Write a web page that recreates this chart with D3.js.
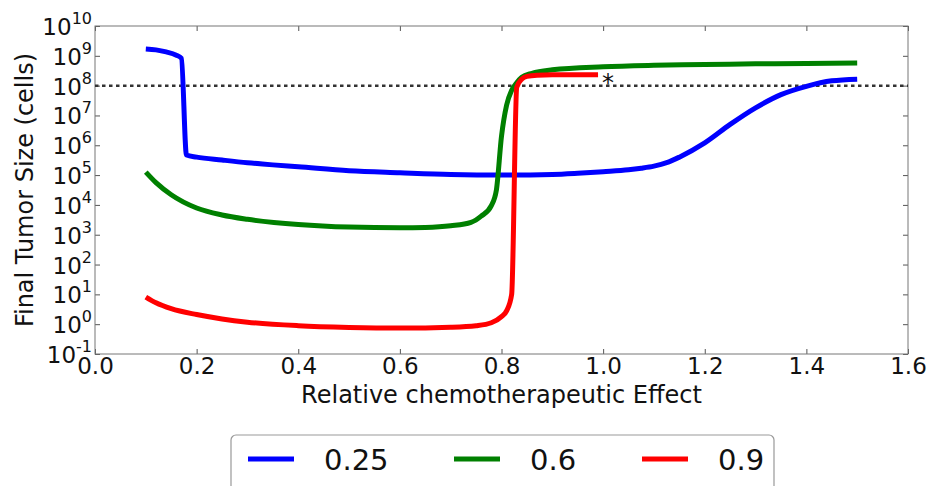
<!DOCTYPE html>
<html>
<head>
<meta charset="utf-8">
<script src="https://cdn.jsdelivr.net/npm/d3@7/dist/d3.min.js"></script>
<style>
    html, body { margin: 0; padding: 0; background: #fff; }
    svg { display: block; font-family: "DejaVu Sans", sans-serif; }
</style>
</head>
<body>
<div id="chart"></div>
<script>
// chemotherapeutic effect (x) and final tumor size in cells (y), one pair per series
const effect025 = [0.10, 0.12, 0.14, 0.16, 0.17, 0.18, 0.20, 0.25, 0.30, 0.35, 0.40, 0.50, 0.60, 0.70,
    0.80, 0.90, 0.95, 1.00, 1.05, 1.075, 1.10, 1.125, 1.15, 1.20, 1.25, 1.30, 1.35, 1.40, 1.45, 1.50];
const size025 = [1.70e9, 1.58e9, 1.35e9, 1.05e9, 8.3e8, 4.7e5, 4.0e5, 3.2e5, 2.6e5, 2.2e5, 1.9e5, 1.4e5, 1.2e5, 1.05e5,
    1.0e5, 1.05e5, 1.15e5, 1.3e5, 1.5e5, 1.7e5, 2.0e5, 2.6e5, 4.0e5, 1.2e6, 5.0e6, 1.8e7, 5.0e7, 9.5e7, 1.45e8, 1.65e8];

const effect06 = [0.10, 0.12, 0.15, 0.20, 0.25, 0.30, 0.40, 0.50, 0.60, 0.65, 0.70, 0.74, 0.76, 0.78,
    0.79, 0.80, 0.81, 0.82, 0.83, 0.84, 0.86, 0.90, 1.00, 1.10, 1.20, 1.30, 1.40, 1.50];
const size06 = [1.26e5, 5.6e4, 2.2e4, 7.9e3, 4.6e3, 3.3e3, 2.2e3, 1.8e3, 1.7e3, 1.75e3, 2.0e3, 2.6e3, 4.2e3, 9.5e3,
    3.2e4, 2.0e6, 2.2e7, 7.0e7, 1.25e8, 1.9e8, 2.6e8, 3.4e8, 4.3e8, 4.8e8, 5.1e8, 5.4e8, 5.55e8, 5.7e8];

const effect09 = [0.10, 0.12, 0.15, 0.20, 0.25, 0.30, 0.40, 0.50, 0.60, 0.70, 0.75, 0.78, 0.80, 0.81,
    0.82, 0.83, 0.84, 0.85, 0.87, 0.90, 0.99];
const size09 = [8.1, 5.2, 3.3, 2.1, 1.5, 1.17, 0.89, 0.78, 0.74, 0.79, 0.89, 1.12, 1.8, 2.8,
    10, 8.9e7, 1.65e8, 2.05e8, 2.25e8, 2.3e8, 2.3e8];

const seriesNames = ["0.25", "0.6", "0.9"];
const seriesColors = ["#0000ff", "#008000", "#ff0000"];

const xTicks = [0.0, 0.2, 0.4, 0.6, 0.8, 1.0, 1.2, 1.4, 1.6];
const yExponents = [-1, 0, 1, 2, 3, 4, 5, 6, 7, 8, 9, 10];
const threshold = 1e8;

// SETTINGS
const WIDTH = 930, HEIGHT = 486;
const LEFT = 95, RIGHT = 908, TOP = 26, BOTTOM = 354;
const LINE_WIDTH = 5;

const svg = d3.select("#chart").append("svg")
    .attr("width", WIDTH)
    .attr("height", HEIGHT);

const x = d3.scaleLinear().domain([0, 1.6]).range([LEFT, RIGHT]);
const y = d3.scaleLog().domain([1e-1, 1e10]).range([BOTTOM, TOP]);

const series = [
    { name: seriesNames[0], color: seriesColors[0], xs: effect025, ys: size025 },
    { name: seriesNames[1], color: seriesColors[1], xs: effect06, ys: size06 },
    { name: seriesNames[2], color: seriesColors[2], xs: effect09, ys: size09 }
];

// axes: ticks point inward on all four sides
const yTickValues = yExponents.map(e => Math.pow(10, e));

function styleAxis(g) {
    g.select(".domain").remove();
    g.selectAll(".tick line").attr("stroke", "#555").attr("stroke-width", 1);
}

svg.append("g")
    .attr("transform", "translate(0," + BOTTOM + ")")
    .call(d3.axisBottom(x).tickValues(xTicks).tickSize(-5).tickPadding(4).tickFormat(d3.format(".1f")))
    .call(styleAxis)
    .selectAll("text")
        .attr("font-size", 23)
        .attr("fill", "#111")
        .attr("font-family", "DejaVu Sans");

svg.append("g")
    .attr("transform", "translate(0," + TOP + ")")
    .call(d3.axisTop(x).tickValues(xTicks).tickSize(-5).tickFormat(""))
    .call(styleAxis);

svg.append("g")
    .attr("transform", "translate(" + RIGHT + ",0)")
    .call(d3.axisRight(y).tickValues(yTickValues).tickSize(-5).tickFormat(""))
    .call(styleAxis);

const yAxis = svg.append("g")
    .attr("transform", "translate(" + LEFT + ",0)")
    .call(d3.axisLeft(y).tickValues(yTickValues).tickSize(-5).tickPadding(3).tickFormat(""))
    .call(styleAxis);

// replace the y tick labels with "10" plus a superscript exponent
yAxis.selectAll(".tick text")
    .attr("font-family", "DejaVu Sans")
    .attr("fill", "#111")
    .attr("text-anchor", "end")
    .attr("dy", "8.5")
    .each(function(d) {
        const t = d3.select(this);
        const e = Math.round(Math.log10(d));
        t.text(null);
        t.append("tspan").attr("font-size", 23).text("10");
        t.append("tspan").attr("font-size", 16).attr("dy", -11).text(e);
    });

// frame
svg.append("rect")
    .attr("x", LEFT)
    .attr("y", TOP)
    .attr("width", RIGHT - LEFT)
    .attr("height", BOTTOM - TOP)
    .attr("fill", "none")
    .attr("stroke", "#777")
    .attr("stroke-width", 1);

// detection threshold
svg.append("line")
    .attr("x1", LEFT)
    .attr("x2", RIGHT)
    .attr("y1", y(threshold))
    .attr("y2", y(threshold))
    .attr("stroke", "#333")
    .attr("stroke-width", 2.5)
    .attr("stroke-dasharray", "3.5,3.5");

// curves (monotone so the sampled points read as the smooth simulation output)
const line = d3.line()
    .curve(d3.curveMonotoneX)
    .x(d => x(d[0]))
    .y(d => y(d[1]));

svg.append("g")
    .selectAll("path")
    .data(series)
    .enter().append("path")
        .attr("d", s => line(s.xs.map((v, i) => [v, s.ys[i]])))
        .attr("fill", "none")
        .attr("stroke", s => s.color)
        .attr("stroke-width", LINE_WIDTH)
        .attr("stroke-linejoin", "round")
        .attr("stroke-linecap", "butt");

// asterisk next to the end of the 0.9 curve
svg.append("text")
    .attr("x", x(effect09[effect09.length - 1]) + 4)
    .attr("y", y(size09[size09.length - 1]) + 16)
    .attr("font-size", 24)
    .attr("fill", "#111")
    .text("*");

// axis labels
svg.append("text")
    .attr("x", (LEFT + RIGHT) / 2)
    .attr("y", 403)
    .attr("text-anchor", "middle")
    .attr("font-size", 24)
    .attr("fill", "#111")
    .text("Relative chemotherapeutic Effect");

svg.append("text")
    .attr("transform", "translate(33," + ((TOP + BOTTOM) / 2) + ") rotate(-90)")
    .attr("text-anchor", "middle")
    .attr("font-size", 24)
    .attr("fill", "#111")
    .text("Final Tumor Size (cells)");

// legend below the plot
const legend = svg.append("g");
legend.append("rect")
    .attr("x", 231)
    .attr("y", 435)
    .attr("width", 543)
    .attr("height", 60)
    .attr("rx", 5)
    .attr("fill", "#fff")
    .attr("stroke", "#999")
    .attr("stroke-width", 1.2);

const legendX = [248, 454, 642];
const item = legend.selectAll("g.item")
    .data(series)
    .enter().append("g")
        .attr("class", "item")
        .attr("transform", (s, i) => "translate(" + legendX[i] + ",459)");

item.append("line")
    .attr("x1", 0)
    .attr("x2", 46)
    .attr("stroke", s => s.color)
    .attr("stroke-width", LINE_WIDTH);

item.append("text")
    .attr("x", 76)
    .attr("y", 11)
    .attr("font-size", 29)
    .attr("fill", "#111")
    .text(s => s.name);
</script>
</body>
</html>
